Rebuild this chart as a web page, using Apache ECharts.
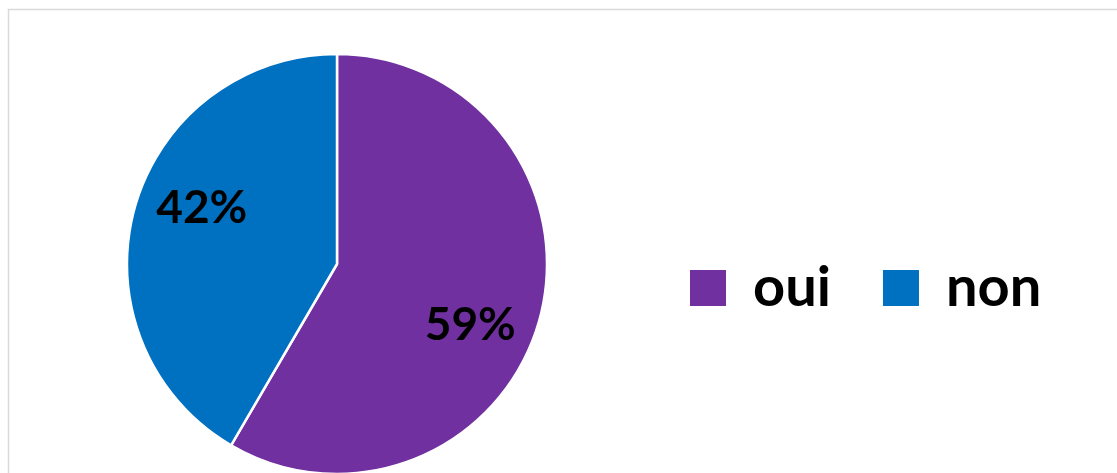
<!DOCTYPE html>
<html>
<head>
<meta charset="utf-8">
<style>
  html, body { margin: 0; padding: 0; background: #ffffff; }
  #chart { width: 1117px; height: 473px; }
</style>
<script src="https://cdn.jsdelivr.net/npm/echarts@6/dist/echarts.min.js"></script>
</head>
<body>
<div id="chart"></div>
<script>
// Answers and their shares (percent)
const categories = ['oui', 'non'];
const shares = [59, 42];
const colors = ['#7030a0', '#0070c0'];

// Nudge each inside label outward from the slice midpoint
const labelOffsets = [[29, 33], [-31, -28]];

const chart = echarts.init(document.getElementById('chart'));

chart.setOption({
  animation: false,
  graphic: [{
    type: 'rect',
    silent: true,
    shape: { x: 8.5, y: 9.5, width: 1200, height: 600 },
    style: { fill: 'none', stroke: '#d9d9d9', lineWidth: 1.5 }
  }],
  legend: {
    left: 683,
    top: 255,
    orient: 'horizontal',
    itemWidth: 38,
    itemHeight: 38,
    itemGap: 50,
    icon: 'rect',
    data: categories,
    textStyle: {
      fontFamily: 'Lato',
      fontWeight: 'bold',
      fontSize: 56,
      color: '#000000',
      padding: [0, 0, 0, 21]
    }
  },
  series: [{
    type: 'pie',
    center: [337, 264],
    radius: [0, 210],
    startAngle: 90,
    clockwise: true,
    silent: true,
    itemStyle: { borderColor: '#ffffff', borderWidth: 2.5 },
    label: {
      show: true,
      position: 'inside',
      formatter: '{c}%',
      fontFamily: 'Lato',
      fontWeight: 'bold',
      fontSize: 46,
      color: '#000000'
    },
    labelLine: { show: false },
    data: categories.map((name, i) => ({
      name: name,
      value: shares[i],
      itemStyle: { color: colors[i] },
      label: { offset: labelOffsets[i] }
    }))
  }]
});
</script>
</body>
</html>
